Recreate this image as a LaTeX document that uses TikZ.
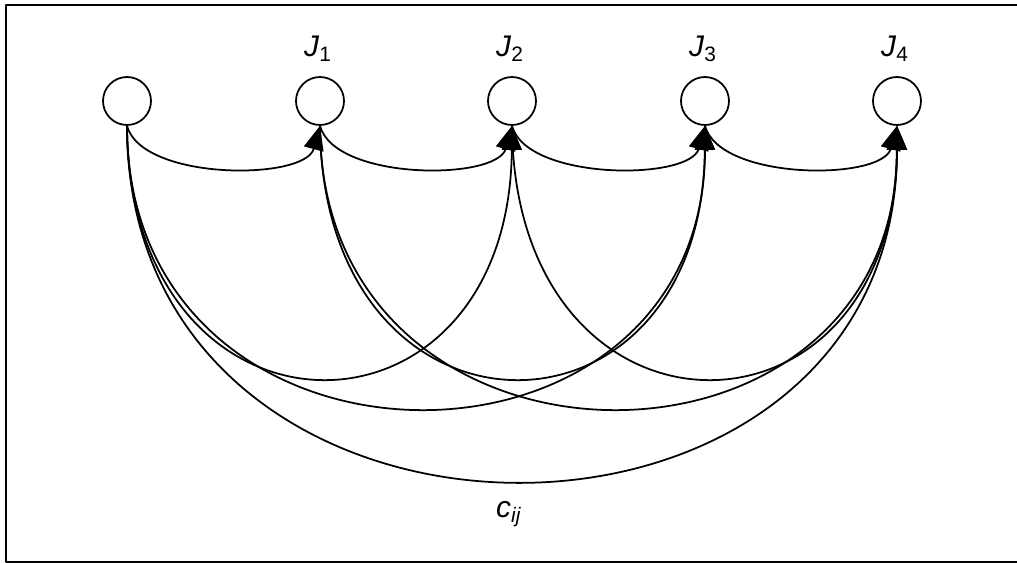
\documentclass[tikz,border=0pt]{standalone}
\usepackage{fontspec}
\setmainfont{Liberation Sans}
\usetikzlibrary{arrows.meta}
\tikzset{
  every picture/.style={line join=round, line cap=round, >={Triangle[length=0.48cm,width=0.4cm]}},
  job/.style={circle, draw, line width=1pt, minimum size=0.96cm, inner sep=0pt},
  arc/.style={line width=1pt, ->},
  frame/.style={line width=1.6pt},
  lbl/.style={font=\fontsize{17}{20}\selectfont, inner sep=0pt},
}

\begin{document}
\begin{tikzpicture}
\useasboundingbox (0,0) rectangle (20.34,-11.26);
\draw[frame] (20.34,-0.1)--(0.12,-0.1)--(0.12,-11.24)--(20.34,-11.24);
% jobs
\foreach \i/\x in {0/2.54,1/6.40,2/10.24,3/14.10,4/17.94}{
  \node[job] (j\i) at (\x,-2.02) {};
}
\foreach \i/\x in {1/6.36,2/10.20,3/14.06,4/17.90}{
  \node[lbl] (lab\i) at (\x,-0.98) {\textit{J}\textsubscript{\i}};
}
% arcs
\foreach \a/\b in {0/1,1/2,2/3,3/4}
  \draw[arc] (j\a.south) .. controls +(0.3,-1.1) and +(-0.3,-1.1) .. (j\b.south);
\foreach \a/\b in {0/2,1/3,2/4}
  \draw[arc] (j\a.south) .. controls +(0.05,-6.7) and +(-0.05,-6.7) .. (j\b.south);
\foreach \a/\b in {0/3,1/4}
  \draw[arc] (j\a.south) .. controls +(0,-7.5) and +(0,-7.5) .. (j\b.south);
\draw[arc] (j0.south) .. controls +(0,-9.44) and +(0,-9.44) .. (j4.south);
\node[lbl] (cost) at (10.18,-10.28) {\textit{c}\textsubscript{\textit{ij}}};
\end{tikzpicture}
\end{document}
